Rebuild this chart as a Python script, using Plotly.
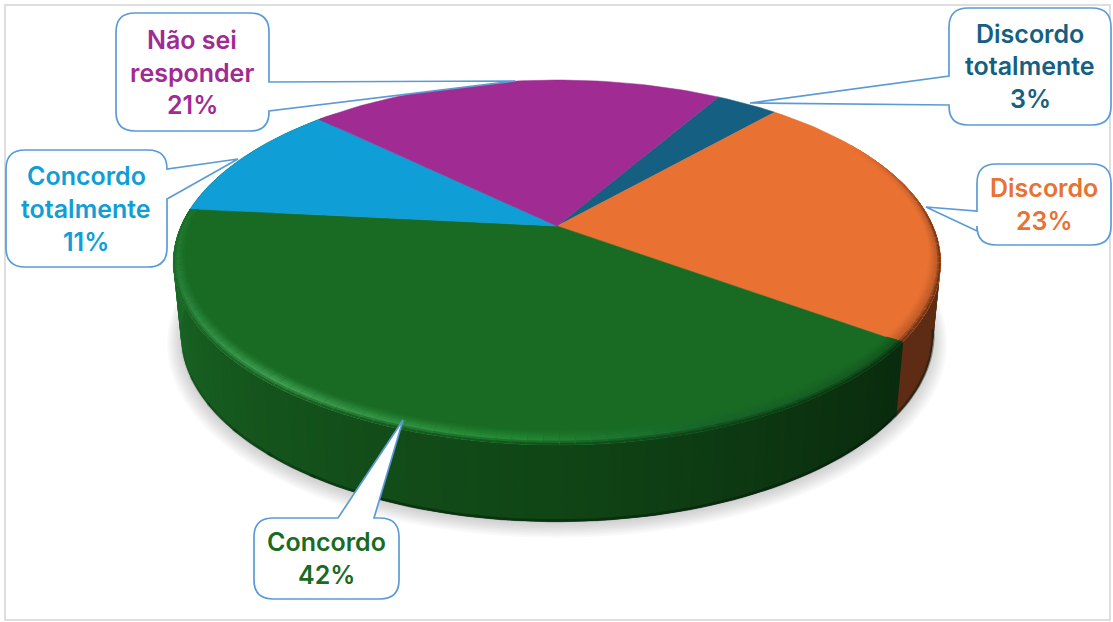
import math
import plotly.graph_objects as go

# ---- data ----
categories = ["Discordo totalmente", "Discordo", "Concordo", "Concordo totalmente", "Não sei responder"]
values = [3.2, 23.4, 41.6, 10.6, 21.2]
colors = ["#156082", "#E97132", "#196B24", "#0F9ED5", "#A02B93"]
side_colors = {"Discordo": "#5E2C14", "Concordo": "#196B24"}
label_lines = [["Discordo", "totalmente"], ["Discordo"], ["Concordo"], ["Concordo", "totalmente"], ["Não sei", "responder"]]
start_angle = 30.2

# ---- projection of the tilted disc ----
CX, CY, RX, RY, K = 557.0, 226.0, 376.0, 175.2, 0.2
CY2, RX2, RY2 = 298.0, 368.5, 179.0


def top(theta, r=1.0):
    a = math.radians(theta)
    u, v = r * math.sin(a), -r * math.cos(a)
    d = 1 - K * v
    return CX + RX * u / d, CY + RY * v / d


def low(theta, r=1.0, dy=0.0):
    a = math.radians(theta)
    u, v = r * math.sin(a), -r * math.cos(a)
    d = 1 - K * v
    return CX + RX2 * u / d, CY2 + dy + RY2 * v / d


def hex2(c):
    return tuple(int(c[i:i + 2], 16) for i in (1, 3, 5))


def mix(a, b, t):
    t = max(0.0, min(1.0, t))
    return tuple(a[i] + (b[i] - a[i]) * t for i in range(3))


def css(c):
    return "rgb(%d,%d,%d)" % tuple(round(x) for x in c)


def interp(table, x):
    if x <= table[0][0]:
        return hex2(table[0][1])
    for (x0, c0), (x1, c1) in zip(table, table[1:]):
        if x <= x1:
            return mix(hex2(c0), hex2(c1), (x - x0) / (x1 - x0))
    return hex2(table[-1][1])


fig = go.Figure()


def poly(pts, color, line=0.0):
    xs = [p[0] for p in pts] + [pts[0][0]]
    ys = [p[1] for p in pts] + [pts[0][1]]
    fig.add_trace(go.Scatter(x=xs, y=ys, mode="lines", fill="toself", fillcolor=color,
                             line=dict(color=color, width=line), hoverinfo="skip", showlegend=False))


# slice boundaries derived from the values
total = sum(values)
bounds = [start_angle]
for val in values:
    bounds.append(bounds[-1] + val / total * 360)
b = {name: (bounds[i], bounds[i + 1]) for i, name in enumerate(categories)}

# soft shadow
for i in range(8):
    s = 1.035 - i * 0.005
    pts = [low(t, s, 6 - i * 0.5) for t in range(0, 360, 3)]
    poly(pts, "rgba(90,90,90,0.04)", 0)

# side wall
green_side = [(125, "#0A2A0E"), (150, "#0C3510"), (180, "#104516"), (210, "#134F1A"),
              (240, "#175D20"), (265, "#1A6A26"), (320, "#1A6A26")]
d0, d1 = b["Discordo"]
c0, c1 = b["Concordo"]
step = 1.5
wall_end = 315.0
t = 70.0
while t < wall_end:
    t2 = t + step
    mid = t + step / 2
    if mid < d1:
        col = hex2(side_colors["Discordo"])
        t3 = min(t2 + step, d1)
    else:
        col = interp(green_side, mid)
        t3 = t2 + step
    poly([top(t), top(t3), low(t3), low(t)], css(col))
    t = t2

# darker foot of the wall, fading out before the left end
foot_segments = 6
for s in range(foot_segments):
    a0 = 205 + s * 8
    alpha = 0.45 * (1 - (s + 1) / (foot_segments + 1))
    seg = [low(a0 + i * 1.5, 1.0, -1) for i in range(7)]
    fig.add_trace(go.Scatter(x=[p[0] for p in seg], y=[p[1] for p in seg], mode="lines",
                             line=dict(color=f"rgba(5,25,10,{alpha:.3f})", width=3), hoverinfo="skip", showlegend=False))
foot = [low(100 + i * 1.5, 1.0, -1) for i in range(int(105 / 1.5) + 1)]
fig.add_trace(go.Scatter(x=[p[0] for p in foot], y=[p[1] for p in foot], mode="lines",
                         line=dict(color="rgba(5,25,10,0.45)", width=3), hoverinfo="skip", showlegend=False))


# flat slices
def wedge(a0, a1):
    n = max(2, int((a1 - a0) / 1.5))
    return [(CX, CY)] + [top(a0 + (a1 - a0) * i / n) for i in range(n + 1)]


for name, col, (a0, a1) in zip(categories, colors, zip(bounds, bounds[1:])):
    poly(wedge(a0, a1), col, 0.5)

# bevel along the rim
g_top = hex2(colors[2])
o_top = hex2(colors[1])
RINGS = 7


def bevel_w(th):
    v = -math.cos(math.radians(th))
    return 0.024 + 0.03 * max(v, 0)


t = d0 + 18
while t < c1 - 0.01:
    t2 = min(t + 2.0, c1)
    mid = (t + t2) / 2
    limit = d1 if mid < d1 else c1
    t3 = min(t2 + 2.0, limit)
    w1, w3 = bevel_w(t), bevel_w(t3)
    if mid < d1:
        base = o_top
        edge = hex2(side_colors["Discordo"])
        peak = mix(base, edge, 0.3)
        ramp = min(1.0, (mid - (d0 + 18)) / 30)
    else:
        base = g_top
        edge = interp(green_side, mid)
        peak = interp([(125, "#14551D"), (160, "#17642A"), (185, "#238A34"), (220, "#3F9E52"),
                       (250, "#27833A"), (276, "#1E7429")], mid)
        ramp = 1.0
    for j in range(RINGS):
        f0 = j / RINGS
        fm = (j + 0.5) / RINGS
        if fm < 0.65:
            col = mix(base, peak, fm / 0.65)
        else:
            col = mix(peak, edge, (fm - 0.65) / 0.35)
        col = mix(base, col, ramp)
        poly([top(t, 1 - w1 * (1 - f0)), top(t3, 1 - w3 * (1 - f0)), top(t3, 1.0), top(t, 1.0)], css(col))
    t = t2

# ---- callouts (box x0,y0,x1,y1 ; side ; wedge base a,b ; tip) ----
callouts = [
    dict(box=(949, 8, 1111, 125), side="l", base=(76, 105), tip=(750, 103), ys=(34, 66, 99), xc=1030),
    dict(box=(977, 164, 1111, 245), side="l", base=(211, 231), tip=(926, 207), ys=(188, 221), xc=1044),
    dict(box=(254, 518, 399, 599), side="t", base=(338, 374), tip=(403, 420), ys=(542, 575), xc=326),
    dict(box=(6, 150, 167, 267), side="r", base=(169, 199), tip=(238, 159), ys=(176, 209, 242), xc=86),
    dict(box=(116, 13, 269, 131), side="r", base=(82, 111), tip=(515, 81), ys=(40, 73, 105), xc=192),
]


def callout_path(c, rad=19):
    x0, y0, x1, y1 = c["box"]
    a, e = c["base"]
    tx, ty = c["tip"]
    p = f"M{x0 + rad},{y0} "
    if c["side"] == "t":
        p += f"L{a},{y0} L{tx},{ty} L{e},{y0} "
    p += f"L{x1 - rad},{y0} Q{x1},{y0} {x1},{y0 + rad} "
    if c["side"] == "r":
        p += f"L{x1},{a} L{tx},{ty} L{x1},{e} "
    p += f"L{x1},{y1 - rad} Q{x1},{y1} {x1 - rad},{y1} L{x0 + rad},{y1} Q{x0},{y1} {x0},{y1 - rad} "
    if c["side"] == "l":
        p += f"L{x0},{e} L{tx},{ty} L{x0},{a} "
    p += f"L{x0},{y0 + rad} Q{x0},{y0} {x0 + rad},{y0} Z"
    return p


shapes = [dict(type="rect", xref="x", yref="y", x0=5, y0=5, x1=1110, y1=620,
               line=dict(color="#DEDEDE", width=2), fillcolor="rgba(0,0,0,0)", layer="below")]
annotations = []
for c, lines, val, col in zip(callouts, label_lines, values, colors):
    shapes.append(dict(type="path", path=callout_path(c), xref="x", yref="y", fillcolor="white",
                       line=dict(color="#5B9BD5", width=1.7), layer="above"))
    for txt, y in zip(lines + [f"{round(val)}%"], c["ys"]):
        annotations.append(dict(x=c["xc"], y=y, xref="x", yref="y", text=txt, showarrow=False,
                                xanchor="center", yanchor="middle",
                                font=dict(family="Inter, Open Sans, sans-serif", size=25, color=col, weight=600)))

fig.update_layout(
    width=1113, height=622, autosize=False,
    margin=dict(l=0, r=0, t=0, b=0),
    paper_bgcolor="white", plot_bgcolor="white",
    xaxis=dict(range=[0, 1113], visible=False, fixedrange=True),
    yaxis=dict(range=[622, 0], visible=False, fixedrange=True),
    shapes=shapes, annotations=annotations, showlegend=False,
)
fig.write_html("out.html", config=dict(displayModeBar=False),
               post_script="document.body.style.margin='0';document.documentElement.style.overflow='hidden';")
